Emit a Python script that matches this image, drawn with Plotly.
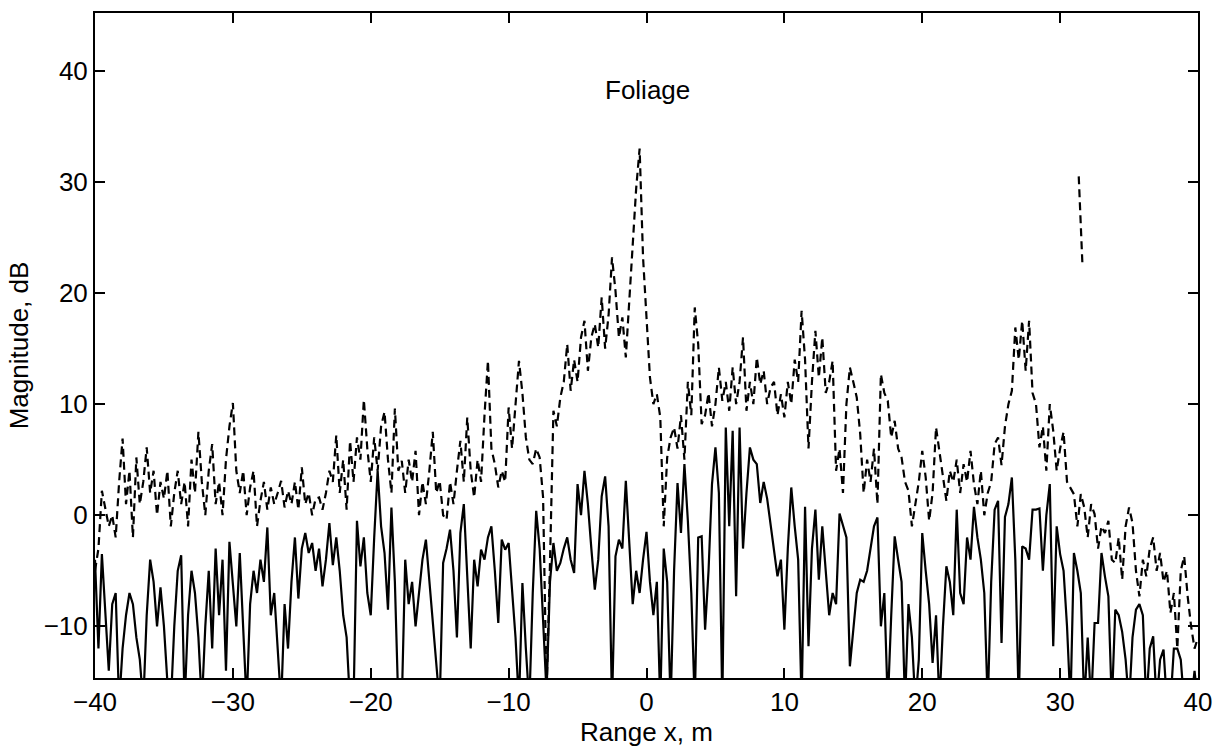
import numpy as np
import plotly.graph_objects as go

# Solid trace (values every 0.25 m from -40 to 40)
solid = [
    -4, -12, -3.5, -9, -14, -8, -7, -17,
    -12, -9, -7, -8, -11, -13, -17, -9,
    -4, -6, -10, -6.5, -10, -15, -17, -10,
    -5, -3.6, -17, -9, -5, -7, -11, -17,
    -10, -5, -12, -3, -9, -4, -14, -2.4,
    -6, -10, -3.4, -11, -17, -8, -5, -7,
    -4, -6, -1.1, -9, -7, -12, -17, -8,
    -12, -6, -2, -7.5, -3, -1.6, -3.4, -2.5,
    -5, -3, -6.4, -4, -0.7, -4.5, -2, -5,
    -9, -11, -17, -17, -0.5, -4.6, -2, -7,
    -9, -2, 4.0, -1, -3.4, -8.5, 0.7, -6,
    -17, -17, -4, -8, -6, -10, -7, -4,
    -2.2, -6, -10, -13, -17, -4.3, -3, -1.3,
    -5, -11, -1.6, 1.0, -5, -12, -4, -6.4,
    -3.1, -4, -2, -1, -5, -9.7, -2.2, -3.1,
    -2.5, -6.7, -11, -17, -6.1, -12, -17, -7,
    0.4, -3, -9, -16, -6, -2.5, -5, -4.3,
    -3, -2, -4, -5.2, 2.8, 0, 4, 1,
    -3, -6.7, -4, 1.7, 3.5, -1, -17, -3.7,
    -2.2, -3, 3.1, -2, -8, -5, -7, -4,
    -1.5, -6, -9, -6, -17, -3, -6, -17,
    -5, 2.9, -1.6, 4.6, -0.5, -7, -17, -2,
    -1.9, -10.3, -5, 2.8, 6.1, 2, -17, 7.9,
    -1, 7.6, -7.3, 7.9, -3, 2, 6.1, 5,
    4.6, 1.1, 3, 1.5, -0.7, -3, -5.5, -4,
    -10.3, -3, 2.5, -1, -4, -17, 0.75, -11.8,
    -3, 0.5, -5.8, -1, -5, -9, -7, -8,
    0.15, -1, -2, -13.6, -10, -7, -5.8, -6,
    -5, -3.1, -1, -0.2, -10, -7, -17, -9,
    -1.9, -4, -6, -17, -8, -11, -17, -13,
    -1.6, -5, -8, -13.3, -9, -17, -10, -4.6,
    -6, -9, 0.5, -7, -8, -2, -4, 0.75,
    -2, -4, -7, -17, -6, 0.5, 1.3, -11.5,
    -0.15, 1, 3.4, -4, -17, -2.8, -3, -4,
    0.5, 0.5, 0.6, -5, 0, 2.8, -11.8, -1,
    -3.5, -5, -10, -17, -3.4, -5, -7, -17,
    -11, -17, -9.7, -9.7, -3.4, -5.5, -7.3, -17,
    -8.5, -9, -10.5, -13, -17, -11, -8.5, -8,
    -9, -17, -12, -10.9, -17, -13, -12.1, -17,
    -17, -12, -12, -13, -17, -15, -17, -14,
    -17,
]

# Dashed trace (values every 0.25 m from -40 to 40)
dashed = [
    -5, -3, 2.2, 0.7, -1, 0, -2, 3,
    6.9, 1, 4, -2, 5.2, 1, 3, 6.1,
    2, 4, 0, 3, 1.5, 4, -1, 2,
    4, 1, 3, -1, 5, 2, 7.5, 3,
    0, 4, 6.4, 1, 3, 0, 5, 8,
    10.1, 4, 2, 4, 0, 2.5, 4, -1,
    1.3, 3, 0.5, 2.5, 1, 2, 3.1, 0.7,
    2.2, 1, 3, 0.5, 4.3, 1, 2, 0,
    1.5, 1.6, 0.5, 2, 4, 3, 7.2, 2,
    5, 0.5, 6.7, 3, 7, 5, 10.4, 6,
    3, 7, 4, 8, 9.3, 5, 2, 9.6,
    4, 4.9, 2, 5, 3, 5.8, 0, 3,
    1, 4, 7.5, 2, 3.1, 0, -0.4, 3,
    1, 4, 6.7, 3, 8.8, 4, 1.6, 5,
    3, 9, 13.9, 6, 4.6, 2.5, 4, 3,
    9.7, 6, 10, 13.9, 11, 7, 5, 4.6,
    6, 5.2, 1.6, -16, -4.3, 9.4, 8, 10.6,
    12, 15.4, 11.2, 14, 12, 16, 17.5, 13,
    16, 17.2, 15.1, 19.6, 15, 18, 23.2, 20.2,
    16, 17.8, 14.2, 19, 24.7, 29.4, 33, 23.2,
    17.8, 12.4, 10, 10.9, 8.8, -1, 5.2, 7,
    7.9, 6, 9, 5, 12, 9, 18.7, 15.4,
    8.2, 9, 11, 8, 10, 13.3, 10.3, 12,
    9.4, 13.3, 10, 12, 16, 9.4, 12, 10,
    14.2, 11.8, 13, 10, 11.5, 12, 9, 10.9,
    8.8, 12, 10, 14, 12, 18.4, 14, 6,
    12, 16.6, 12.4, 16, 11, 12, 13.9, 4,
    6, 2, 10, 13.3, 12, 10.6, 7.3, 2,
    5, 3, 6, 1, 12.7, 11, 10.3, 7,
    8.5, 6, 5.2, 3, 2.2, -1, 1, 3,
    5.8, 3.4, -0.5, 2, 7.9, 5.8, 3.4, 1.3,
    4, 3, 5, 2, 4.6, 3, 5.8, 2.8,
    1, 4, 0, 2, 3, 6.4, 7, 4.5,
    8, 10, 11.2, 16.9, 14, 17.5, 13, 17.5,
    11, 10, 6.1, 8, 4, 10, 7.6, 4,
    6, 7.5, 3, 2.5, 1.9, -1, 1.9, 0.7,
    -2, 1, 0.1, -3, -1, -1.6, -0.5, -4,
    -4.3, -2, -5.8, -1, 0.7, -0.7, -5, -7.3,
    -4, -5.5, -3, -2, -5, -3.4, -6, -5,
    -8.8, -7, -12, -5, -3.7, -7.3, -10, -12,
    -11,
]

# Isolated dashed fragment near x = 31.5 m
spike_x = [31.35, 31.45, 31.55, 31.62]
spike_y = [30.5, 27.4, 25.5, 22.5]

x_solid = np.linspace(-40, 40, len(solid))
x_dashed = np.linspace(-40, 40, len(dashed))

x_ticks = [-40, -30, -20, -10, 0, 10, 20, 30, 40]
y_ticks = [-10, 0, 10, 20, 30, 40]
x_tick_text = ["\u221240", "\u221230", "\u221220", "\u221210", "0", "10", "20", "30", "40"]
y_tick_text = ["\u221210", "0", "10", "20", "30", "40"]

FONT = "Liberation Sans, Arial, Helvetica, sans-serif"
FS = 26

fig = go.Figure()
fig.add_trace(go.Scatter(x=x_dashed, y=dashed, mode="lines",
                         line=dict(color="black", width=2.2, dash="8px,5px"),
                         showlegend=False, hoverinfo="skip"))
fig.add_trace(go.Scatter(x=spike_x, y=spike_y, mode="lines",
                         line=dict(color="black", width=2.2, dash="8px,5px"),
                         showlegend=False, hoverinfo="skip"))
fig.add_trace(go.Scatter(x=x_solid, y=solid, mode="lines",
                         line=dict(color="black", width=2.2),
                         showlegend=False, hoverinfo="skip"))

fig.add_annotation(x=0.1, y=38.3, text="Foliage", showarrow=False,
                   font=dict(family=FONT, size=FS, color="black"),
                   xref="x", yref="y")

fig.update_layout(
    width=1223, height=752,
    margin=dict(l=95, r=23, t=11, b=74),
    paper_bgcolor="white", plot_bgcolor="white",
    font=dict(family=FONT, size=FS, color="black"),
    xaxis=dict(range=[-40, 40], tickvals=x_ticks, ticktext=x_tick_text,
               ticks="inside", ticklen=10, tickwidth=2, tickcolor="black",
               showline=True, linecolor="black", linewidth=2, mirror="ticks",
               showgrid=False, zeroline=False,
               tickfont=dict(family=FONT, size=FS),
               title=dict(text="Range x, m", standoff=2,
                          font=dict(family=FONT, size=FS))),
    yaxis=dict(range=[-14.65, 45.2], tickvals=y_ticks, ticktext=y_tick_text,
               ticks="inside", ticklen=10, tickwidth=2, tickcolor="black",
               showline=True, linecolor="black", linewidth=2, mirror="ticks",
               showgrid=False, zeroline=False,
               tickfont=dict(family=FONT, size=FS),
               title=dict(text="Magnitude, dB", standoff=8,
                          font=dict(family=FONT, size=FS))),
)

fig.write_html("out.html")
